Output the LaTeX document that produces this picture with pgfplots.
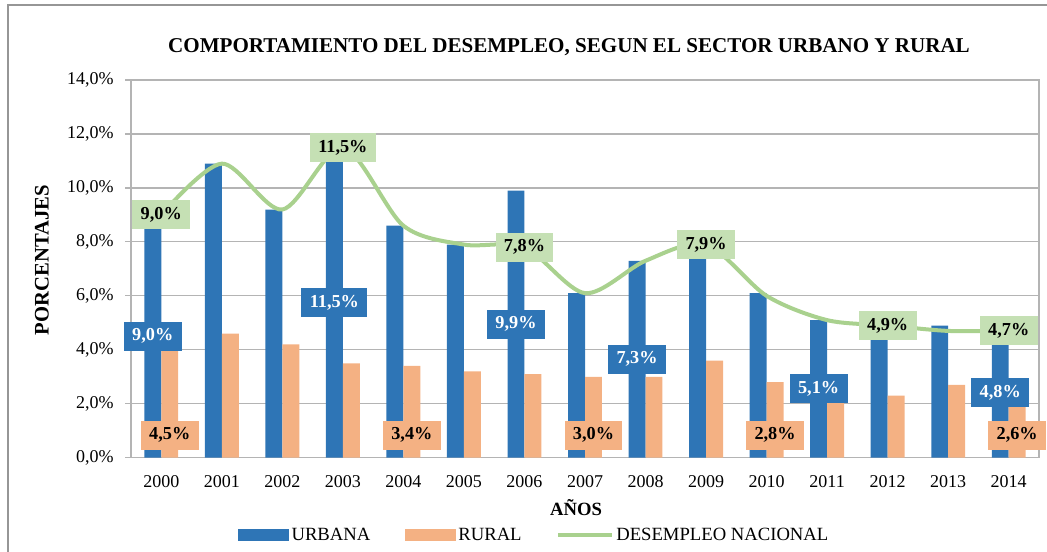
\documentclass[border=0pt]{standalone}
\usepackage{fontspec}
\setmainfont{Liberation Serif}
\usepackage{pgfplots}
\pgfplotsset{compat=1.18}
\definecolor{urb}{RGB}{46,117,182}
\definecolor{rur}{RGB}{244,177,131}
\definecolor{nacl}{RGB}{169,209,142}
\definecolor{nacb}{RGB}{197,224,180}
\definecolor{gridg}{RGB}{180,180,180}
\definecolor{bordg}{RGB}{150,150,150}
\pgfplotstableread{
x urbana rural nacional
0 9.0 4.5 9.0
1 10.9 4.6 10.9
2 9.2 4.2 9.2
3 11.5 3.5 11.5
4 8.6 3.4 8.6
5 7.9 3.2 7.9
6 9.9 3.1 7.8
7 6.1 3.0 6.1
8 7.3 3.0 7.3
9 7.8 3.6 7.9
10 6.1 2.8 6.0
11 5.1 2.2 5.1
12 4.6 2.3 4.9
13 4.9 2.7 4.7
14 4.8 2.6 4.7
}\datatable
\tikzset{lab/.style={font=\fontsize{13.7}{16}\selectfont\bfseries, inner xsep=6.3pt, inner ysep=0pt, minimum height=21.75pt},
  gl/.style={lab, fill=nacb, text=black},
  ul/.style={lab, fill=urb, text=white},
  rl/.style={lab, fill=rur, text=black}}
\begin{document}
\begin{tikzpicture}
\path[use as bounding box] (0,0) rectangle (785.25pt,414pt);
\draw[bordg, line width=0.8pt] (6pt,0pt) -- (6pt,410.25pt) -- (790pt,410.25pt);
\node[font=\fontsize{15.8}{18}\selectfont\bfseries] at (426.75pt,378.75pt) {COMPORTAMIENTO DEL DESEMPLEO, SEGUN EL SECTOR URBANO Y RURAL};
\node[rotate=90, font=\fontsize{15.5}{18}\selectfont\bfseries] at (31.5pt,219pt) {PORCENTAJES};
\node[font=\fontsize{14}{16}\selectfont\bfseries] at (432pt,33pt) {AÑOS};
\begin{axis}[
  at={(98.25pt,70.7pt)}, anchor=south west,
  scale only axis, width=681pt, height=283.3pt,
  xmin=-0.5, xmax=14.5, ymin=0, ymax=14,
  ytick={0,2,...,14},
  xtick={0,...,14},
  xticklabels={2000,2001,2002,2003,2004,2005,2006,2007,2008,2009,2010,2011,2012,2013,2014},
  ymajorgrids, grid style={gridg, line width=0.9pt},
  axis line style={gridg, line width=0.9pt},
  xtick style={draw=none},
  ytick style={gridg, line width=0.9pt},
  ytick pos=left, tick align=outside, major tick length=4.5pt,
  /pgf/number format/assume math mode=true,
  yticklabel={\pgfmathprintnumber[fixed, fixed zerofill, precision=1, use comma]{\tick}\%},
  ticklabel style={font=\fontsize{13.5}{16}\selectfont},
  xticklabel style={yshift=-5.5pt},
  yticklabel style={xshift=-5pt},
  clip=false,
  legend columns=3,
  legend style={at={(0.1178,-0.2045)}, anchor=west, draw=none, fill=none, inner sep=0pt,
    font=\fontsize{14}{16}\selectfont,
    /tikz/every even column/.append style={column sep=24pt}},
]
\addplot[ybar, bar width=0.28, bar shift=-0.14, fill=urb, draw=none,
  legend image code/.code={\fill[urb] (0pt,-4.5pt) rectangle (38pt,4.5pt);}]
  table[x=x, y=urbana] {\datatable};
\addlegendentry{URBANA}
\addplot[ybar, bar width=0.28, bar shift=0.14, fill=rur, draw=none,
  legend image code/.code={\fill[rur] (0pt,-4.5pt) rectangle (38pt,4.5pt);}]
  table[x=x, y=rural] {\datatable};
\addlegendentry{RURAL}
\addplot[nacl, line width=3pt, smooth, no markers,
  legend image code/.code={\draw[nacl, line width=3pt] (0pt,0pt) -- (40pt,0pt);}]
  table[x=x, y=nacional] {\datatable};
\addlegendentry{DESEMPLEO NACIONAL}
% data labels: nacional
\node[gl] at (axis cs:0,9.0) {9,0\%};
\node[gl] at (axis cs:3,11.5) {11,5\%};
\node[gl] at (axis cs:6,7.8) {7,8\%};
\node[gl] at (axis cs:9,7.9) {7,9\%};
\node[gl] at (axis cs:12,4.9) {4,9\%};
\node[gl] at (axis cs:14,4.7) {4,7\%};
% urbana (centre of bar)
\node[ul] at (axis cs:-0.14,4.5) {9,0\%};
\node[ul] at (axis cs:2.86,5.75) {11,5\%};
\node[ul] at (axis cs:5.86,4.95) {9,9\%};
\node[ul] at (axis cs:7.86,3.65) {7,3\%};
\node[ul] at (axis cs:10.86,2.55) {5,1\%};
\node[ul] at (axis cs:13.86,2.4) {4,8\%};
% rural (inside base)
\node[rl] at (axis cs:0.14,0.84) {4,5\%};
\node[rl] at (axis cs:4.14,0.84) {3,4\%};
\node[rl] at (axis cs:7.14,0.84) {3,0\%};
\node[rl] at (axis cs:10.14,0.84) {2,8\%};
\node[rl] at (axis cs:14.14,0.84) {2,6\%};
\end{axis}
\end{tikzpicture}
\end{document}
